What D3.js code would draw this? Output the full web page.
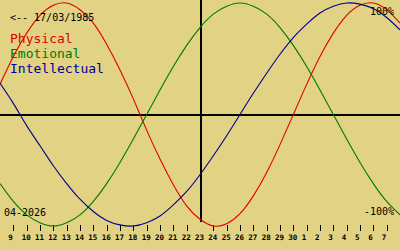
<!DOCTYPE html>
<html>
<head>
<meta charset="utf-8">
<script src="https://cdn.jsdelivr.net/npm/d3@7/dist/d3.min.js"></script>
<style>
html,body{margin:0;padding:0;background:#e1d383;}
svg{display:block;}
text{font-family:"DejaVu Sans Mono",monospace;}
</style>
</head>
<body>
<svg id="chart" width="400" height="250"></svg>
<script>
// Day offsets from the centre day (23 April 2026)
const offsets = [-15,-14,-13,-12,-11,-10,-9,-8,-7,-6,-5,-4,-3,-2,-1,0,1,2,3,4,5,6,7,8,9,10,11,12,13,14,15];
const physical = [0.27,0.52,0.73,0.89,0.98,1.00,0.94,0.82,0.63,0.40,0.14,-0.14,-0.40,-0.63,-0.82,-0.94,-1.00,-0.98,-0.89,-0.73,-0.52,-0.27,0.00,0.27,0.52,0.73,0.89,0.98,1.00,0.94,0.82];
const emotional = [-0.62,-0.78,-0.90,-0.97,-1.00,-0.97,-0.90,-0.78,-0.62,-0.43,-0.22,0.00,0.22,0.43,0.62,0.78,0.90,0.97,1.00,0.97,0.90,0.78,0.62,0.43,0.22,0.00,-0.22,-0.43,-0.62,-0.78,-0.90];
const intellectual = [0.28,0.10,-0.10,-0.28,-0.46,-0.62,-0.76,-0.87,-0.95,-0.99,-1.00,-0.97,-0.91,-0.81,-0.69,-0.54,-0.37,-0.19,0.00,0.19,0.37,0.54,0.69,0.81,0.91,0.97,1.00,0.99,0.95,0.87,0.76];
// Tick labels (day of month) for offsets -14..14
const tickOffsets = [-14,-13,-12,-11,-10,-9,-8,-7,-6,-5,-4,-3,-2,-1,0,1,2,3,4,5,6,7,8,9,10,11,12,13,14];
const tickLabels = ["9","10","11","12","13","14","15","16","17","18","19","20","21","22","23","24","25","26","27","28","29","30","1","2","3","4","5","6","7"];
const seriesNames = ["Physical","Emotional","Intellectual"];
const seriesColors = ["#e00000","#007a00","#000090"];
const birthLabel = "<-- 17/03/1985";
const monthLabel = "04-2026";
const topLabel = "100%";
const bottomLabel = "-100%";

const svg = d3.select("#chart");
const W = 400, H = 250;
const x = d3.scaleLinear().domain([-15, 15]).range([0, W]);
const y = d3.scaleLinear().domain([-1, 1]).range([226, 3]);

// axes lines
svg.append("line").attr("x1", 0).attr("x2", W).attr("y1", 115).attr("y2", 115)
  .attr("stroke", "#000").attr("stroke-width", 2).attr("shape-rendering", "crispEdges");
svg.append("line").attr("x1", x(0) + 1).attr("x2", x(0) + 1).attr("y1", 0).attr("y2", 222)
  .attr("stroke", "#000").attr("stroke-width", 2).attr("shape-rendering", "crispEdges");

// ticks
const tickG = svg.append("g");
tickG.selectAll("line").data(tickOffsets.filter(d => d !== 0)).join("line")
  .attr("x1", d => Math.round(x(d)) + 0.5).attr("x2", d => Math.round(x(d)) + 0.5)
  .attr("y1", 225).attr("y2", 231)
  .attr("stroke", "#000").attr("stroke-width", 1).attr("shape-rendering", "crispEdges");
tickG.selectAll("text").data(tickOffsets).join("text")
  .attr("x", d => x(d) - 5).attr("y", 240)
  .attr("font-size", "7.5px").attr("font-weight", "bold").attr("fill", "#000")
  .text((d, i) => tickLabels[i]);

// curves
const line = d3.line().x((d, i) => x(offsets[i])).y(d => y(d)).curve(d3.curveNatural);
[physical, emotional, intellectual].forEach((s, i) => {
  svg.append("path").attr("d", line(s)).attr("fill", "none")
    .attr("stroke", seriesColors[i]).attr("stroke-width", 1.1);
});

// texts
svg.append("text").attr("x", 10).attr("y", 21).attr("font-size", "10px").attr("fill", "#000").text(birthLabel);
seriesNames.forEach((n, i) => {
  svg.append("text").attr("x", 10).attr("y", 43 + i * 15).attr("font-size", "13px")
    .attr("fill", seriesColors[i]).text(n);
});
svg.append("text").attr("x", 394).attr("y", 15).attr("text-anchor", "end").attr("font-size", "10px").attr("fill", "#000").text(topLabel);
svg.append("text").attr("x", 394).attr("y", 215).attr("text-anchor", "end").attr("font-size", "10px").attr("fill", "#000").text(bottomLabel);
svg.append("text").attr("x", 4).attr("y", 216).attr("font-size", "10px").attr("fill", "#000").text(monthLabel);
</script>
</body>
</html>
